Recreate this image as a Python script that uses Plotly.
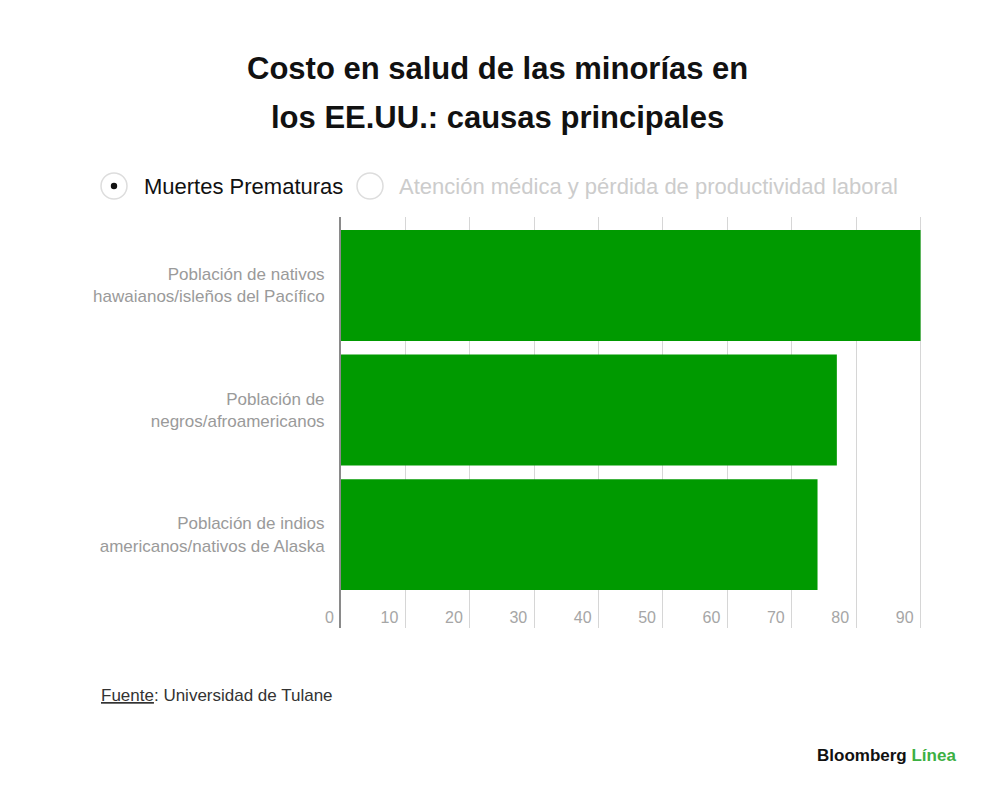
import plotly.graph_objects as go

categories = [
    "Población de nativos<br>hawaianos/isleños del Pacífico",
    "Población de<br>negros/afroamericanos",
    "Población de indios<br>americanos/nativos de Alaska",
]
values = [90, 77, 74]
tick_vals = [0, 10, 20, 30, 40, 50, 60, 70, 80, 90]
tick_text = [str(v) for v in tick_vals]

title_lines = ["Costo en salud de las minorías en", "los EE.UU.: causas principales"]
legend_labels = ["Muertes Prematuras", "Atención médica y pérdida de productividad laboral"]
source_text = "<u>Fuente</u>: Universidad de Tulane"

FONT = "Liberation Sans"
OFF = 8  # page body margin offset

L, R, T, B = 341 - OFF, 73 + OFF, 217 - OFF, 172 + OFF

fig = go.Figure()
fig.add_trace(go.Bar(
    x=values, y=categories, orientation="h",
    width=0.89,
    marker=dict(color="#009a00", line=dict(width=0)),
    showlegend=False, hoverinfo="x+y",
))

fig.update_layout(
    width=1000, height=800,
    paper_bgcolor="white", plot_bgcolor="white",
    margin=dict(l=L, r=R, t=T, b=B),
    font=dict(family=FONT),
    xaxis=dict(
        range=[0, 91], tickvals=tick_vals, ticktext=tick_text,
        showgrid=True, gridcolor="#d6d6d6", gridwidth=1,
        zeroline=False, showline=False, ticks="",
        ticklabelposition="inside left", ticklabeloverflow="allow",
        ticklabelshift=-7, ticklabelstandoff=-4,
        tickfont=dict(family=FONT, size=16, color="#a6a6a6"),
        fixedrange=True,
    ),
    yaxis=dict(
        type="category", range=[2.75, -0.55],
        showgrid=False, zeroline=False,
        showline=True, linecolor="#8a8a8a", linewidth=2,
        ticks="", ticklabelstandoff=11,
        tickfont=dict(family=FONT, size=17, color="#9a9a9a"),
        fixedrange=True,
    ),
)

plot_w = 1000 - L - R
plot_h = 800 - T - B

def px_x(v):
    return (v - OFF - L) / plot_w

def px_y(v):
    return ((800 - (v - OFF)) - B) / plot_h

annotations = [
    dict(text=f"<b>{title_lines[0]}</b>", x=497, y=68,
         font=dict(family=FONT, size=31, color="#111111"), xanchor="center"),
    dict(text=f"<b>{title_lines[1]}</b>", x=497, y=117,
         font=dict(family=FONT, size=31, color="#111111"), xanchor="center"),
    dict(text=legend_labels[0], x=142, y=186,
         font=dict(family=FONT, size=22, color="#111111"), xanchor="left"),
    dict(text=legend_labels[1], x=397, y=186,
         font=dict(family=FONT, size=22, color="#cccccc"), xanchor="left"),
    dict(text=source_text, x=99, y=695,
         font=dict(family=FONT, size=17, color="#333333"), xanchor="left"),
    dict(text="<b>Bloomberg</b> <b><span style='color:#3cb043'>Línea</span></b>", x=958, y=755,
         font=dict(family=FONT, size=17, color="#111111"), xanchor="right"),
]
for a in annotations:
    a["xref"] = "paper"; a["yref"] = "paper"
    a["showarrow"] = False
    a["yanchor"] = "middle"
    a["x"] = px_x(a["x"])
    a["y"] = px_y(a["y"])
fig.update_layout(annotations=annotations)

shapes = []
for cx, filled in [(114, True), (370, False)]:
    r = 13
    shapes.append(dict(type="circle", xref="paper", yref="paper",
                       x0=px_x(cx - r), x1=px_x(cx + r), y0=px_y(186 + r), y1=px_y(186 - r),
                       line=dict(color="#dddddd", width=1.5), fillcolor="white"))
    if filled:
        r2 = 3.2
        shapes.append(dict(type="circle", xref="paper", yref="paper",
                           x0=px_x(cx - r2), x1=px_x(cx + r2), y0=px_y(186 + r2), y1=px_y(186 - r2),
                           line=dict(color="#111111", width=0), fillcolor="#111111"))
fig.update_layout(shapes=shapes)

fig.write_html("out.html")
